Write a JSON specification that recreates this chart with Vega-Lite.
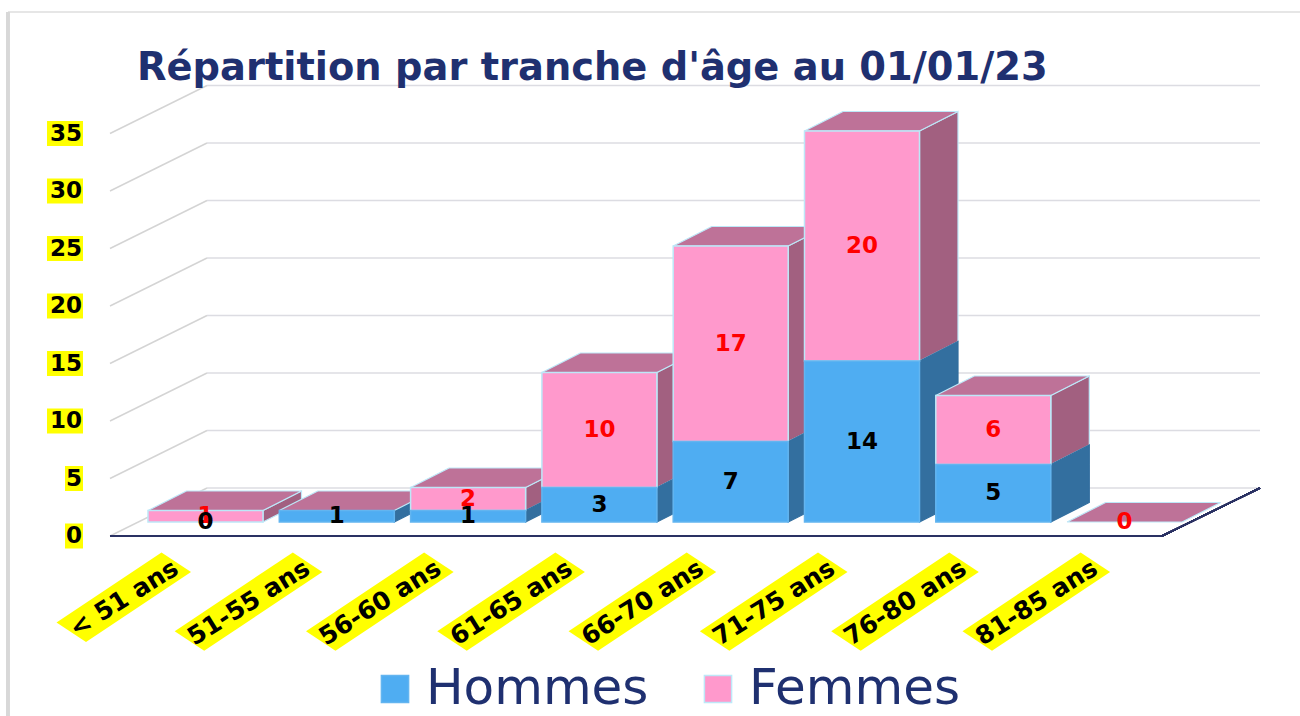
{
"$schema":"https://vega.github.io/schema/vega-lite/v6.json",
"width":1300,"height":716,"padding":0,"autosize":{"type":"none"},
"background":"white",
"title":{"text":"Répartition par tranche d'âge au 01/01/23","anchor":"start","frame":"group","dx":137,"dy":92,"font":"DejaVu Sans","fontWeight":"bold","fontSize":38.4,"color":"#1F3070"},
"config":{"view":{"stroke":null}},
"datasets":{
"barres":[
{"age":"< 51 ans","rang":0,"sexe":"Femmes","valeur":1},{"age":"< 51 ans","rang":0,"sexe":"Hommes","valeur":0},
{"age":"51-55 ans","rang":1,"sexe":"Femmes","valeur":0},{"age":"51-55 ans","rang":1,"sexe":"Hommes","valeur":1},
{"age":"56-60 ans","rang":2,"sexe":"Femmes","valeur":2},{"age":"56-60 ans","rang":2,"sexe":"Hommes","valeur":1},
{"age":"61-65 ans","rang":3,"sexe":"Femmes","valeur":10},{"age":"61-65 ans","rang":3,"sexe":"Hommes","valeur":3},
{"age":"66-70 ans","rang":4,"sexe":"Femmes","valeur":17},{"age":"66-70 ans","rang":4,"sexe":"Hommes","valeur":7},
{"age":"71-75 ans","rang":5,"sexe":"Femmes","valeur":20},{"age":"71-75 ans","rang":5,"sexe":"Hommes","valeur":14},
{"age":"76-80 ans","rang":6,"sexe":"Femmes","valeur":6},{"age":"76-80 ans","rang":6,"sexe":"Hommes","valeur":5},
{"age":"81-85 ans","rang":7,"sexe":"Femmes","valeur":0},{"age":"81-85 ans","rang":7,"sexe":"Hommes","valeur":0}
],
"graduations":[{"valeur":0},{"valeur":5},{"valeur":10},{"valeur":15},{"valeur":20},{"valeur":25},{"valeur":30},{"valeur":35}]
},
"data":{"name":"barres"},
"transform":[{"stack":"valeur","groupby":["age"],"sort":[{"field":"sexe","order":"descending"}],"as":["bas","haut"]}],
"layer":[
{"mark":{"type":"rule","stroke":"#E6E6E6","strokeWidth":2},"encoding":{"x":{"datum":-0.7769,"type":"quantitative","scale":{"domain":[-0.8378,9.0632],"nice":false,"zero":false},"axis":null},"y":{"datum":45.565,"type":"quantitative","scale":{"domain":[-15.652,46.609],"nice":false,"zero":false},"axis":null},"x2":{"datum":9.0632},"y2":{"datum":45.565}}},
{"mark":{"type":"rule","stroke":"#D8D8D8","strokeWidth":3},"encoding":{"x":{"datum":-0.7769,"type":"quantitative","scale":{"domain":[-0.8378,9.0632],"nice":false,"zero":false},"axis":null},"y":{"datum":45.565,"type":"quantitative","scale":{"domain":[-15.652,46.609],"nice":false,"zero":false},"axis":null},"x2":{"datum":-0.7769},"y2":{"datum":-15.652}}},
{"data":{"name":"graduations"},"transform":[{"calculate":"datum.valeur+4.174","as":"fond"},{"calculate":"0.7388","as":"g"},{"calculate":"8.7586","as":"d"}],
 "mark":{"type":"rule","stroke":"#DCDCE2","strokeWidth":1.5},
 "encoding":{"x":{"field":"g","type":"quantitative","scale":{"domain":[-0.8378,9.0632],"nice":false,"zero":false},"axis":null,"title":null},"y":{"field":"fond","type":"quantitative","scale":{"domain":[-15.652,46.609],"nice":false,"zero":false},"axis":null,"title":null},"x2":{"field":"d"},"y2":{"field":"fond"}}},
{"data":{"name":"graduations"},"transform":[{"calculate":"datum.valeur+4.174","as":"fond"},{"calculate":"0.7388","as":"g"},{"calculate":"0","as":"o"}],
 "mark":{"type":"rule","stroke":"#D4D4D4","strokeWidth":1.5},
 "encoding":{"x":{"field":"o","type":"quantitative","scale":{"domain":[-0.8378,9.0632],"nice":false,"zero":false},"axis":null,"title":null},"y":{"field":"valeur","type":"quantitative","scale":{"domain":[-15.652,46.609],"nice":false,"zero":false},"axis":null,"title":null},"x2":{"field":"g"},"y2":{"field":"fond"}}},
{"mark":{"type":"rule","stroke":"#2B3263","strokeWidth":1.5},"encoding":{"x":{"datum":0,"type":"quantitative","scale":{"domain":[-0.8378,9.0632],"nice":false,"zero":false},"axis":null},"y":{"datum":0,"type":"quantitative","scale":{"domain":[-15.652,46.609],"nice":false,"zero":false},"axis":null},"x2":{"datum":8.012},"y2":{"datum":0}}},
{"mark":{"type":"rule","stroke":"#2B3263","strokeWidth":1.5},"encoding":{"x":{"datum":8.012,"type":"quantitative","scale":{"domain":[-0.8378,9.0632],"nice":false,"zero":false},"axis":null},"y":{"datum":0,"type":"quantitative","scale":{"domain":[-15.652,46.609],"nice":false,"zero":false},"axis":null},"x2":{"datum":8.7586},"y2":{"datum":4.174}}},
{"transform":[{"filter":"datum.valeur>0"},{"calculate":"[0,1]","as":"c"},{"flatten":["c"]},{"calculate":"datum.rang+1.1653+datum.c*0.2932","as":"px"},{"calculate":"datum.bas+1.217+datum.c*1.696","as":"py"},{"calculate":"datum.haut+1.217+datum.c*1.696","as":"py2"},{"calculate":"datum.age+datum.sexe","as":"face"}],
 "mark":{"type":"area","strokeWidth":1.2},
 "encoding":{"x":{"field":"px","type":"quantitative","scale":{"domain":[-0.8378,9.0632],"nice":false,"zero":false},"axis":null,"title":null},"y":{"field":"py","type":"quantitative","scale":{"domain":[-15.652,46.609],"nice":false,"zero":false},"axis":null,"title":null},"y2":{"field":"py2"},"detail":{"field":"face"},
  "fill":{"field":"sexe","type":"nominal","scale":{"domain":["Hommes","Femmes"],"range":["#336F9F","#A26080"]},"legend":null},
  "stroke":{"field":"sexe","type":"nominal","scale":{"domain":["Hommes","Femmes"],"range":["#336F9F","#BDE8F8"]},"legend":null}}},
{"transform":[{"filter":"datum.sexe=='Femmes'"},{"calculate":"[0,1]","as":"c"},{"flatten":["c"]},{"calculate":"datum.rang+0.2894+datum.c*0.2932","as":"px"},{"calculate":"datum.rang+1.1653+datum.c*0.2932","as":"px2"},{"calculate":"datum.haut+1.217+datum.c*1.696","as":"py"}],
 "mark":{"type":"area","orient":"horizontal","fill":"#BE7298","stroke":"#BDE8F8","strokeWidth":1.2},
 "encoding":{"y":{"field":"py","type":"quantitative","scale":{"domain":[-15.652,46.609],"nice":false,"zero":false},"axis":null,"title":null},"x":{"field":"px","type":"quantitative","scale":{"domain":[-0.8378,9.0632],"nice":false,"zero":false},"axis":null,"title":null},"x2":{"field":"px2"},"detail":{"field":"age"}}},
{"transform":[{"filter":"datum.valeur>0"},{"calculate":"datum.rang+0.2894","as":"px"},{"calculate":"datum.rang+1.1653","as":"px2"},{"calculate":"datum.bas+1.217","as":"py"},{"calculate":"datum.haut+1.217","as":"py2"}],
 "mark":{"type":"rect","strokeWidth":1.5},
 "encoding":{"x":{"field":"px","type":"quantitative","scale":{"domain":[-0.8378,9.0632],"nice":false,"zero":false},"axis":null,"title":null},"x2":{"field":"px2"},"y":{"field":"py","type":"quantitative","scale":{"domain":[-15.652,46.609],"nice":false,"zero":false},"axis":null,"title":null},"y2":{"field":"py2"},
  "fill":{"field":"sexe","type":"nominal","scale":{"domain":["Hommes","Femmes"],"range":["#4FADF2","#FF99CC"]},"title":null,"legend":{"orient":"none","legendX":370,"legendY":664,"direction":"horizontal","columns":2,"columnPadding":44,"symbolType":"square","symbolSize":740,"symbolStrokeWidth":1.5,"labelFont":"DejaVu Sans","labelFontSize":50,"labelColor":"#1F3070","labelOffset":6,"title":null,"labelLimit":400}},
  "stroke":{"field":"sexe","type":"nominal","scale":{"domain":["Hommes","Femmes"],"range":["#63B5F0","#BDE8F8"]},"title":null}}},
{"transform":[{"filter":"!((datum.rang==1&&datum.sexe=='Femmes')||(datum.rang==7&&datum.sexe=='Hommes'))"},{"calculate":"datum.rang+0.7274","as":"px"},{"calculate":"(datum.bas+datum.haut)/2+1.217","as":"py"}],
 "mark":{"type":"text","font":"DejaVu Sans","fontWeight":"bold","fontSize":23,"align":"center","baseline":"middle"},
 "encoding":{"x":{"field":"px","type":"quantitative","scale":{"domain":[-0.8378,9.0632],"nice":false,"zero":false},"axis":null,"title":null},"y":{"field":"py","type":"quantitative","scale":{"domain":[-15.652,46.609],"nice":false,"zero":false},"axis":null,"title":null},"text":{"field":"valeur","type":"nominal"},
  "color":{"field":"sexe","type":"nominal","scale":{"domain":["Hommes","Femmes"],"range":["#000000","#FF0000"]},"legend":null}}},
{"data":{"name":"graduations"},"transform":[{"calculate":"-0.2056","as":"d"},{"calculate":"-0.2056-length(toString(datum.valeur))*18/131.3","as":"g"}],
 "mark":{"type":"rule","stroke":"#FFFF00","strokeWidth":25},
 "encoding":{"x":{"field":"g","type":"quantitative","scale":{"domain":[-0.8378,9.0632],"nice":false,"zero":false},"axis":null,"title":null},"x2":{"field":"d"},"y":{"field":"valeur","type":"quantitative","scale":{"domain":[-15.652,46.609],"nice":false,"zero":false},"axis":null,"title":null}}},
{"data":{"name":"graduations"},"transform":[{"calculate":"-0.2056","as":"d"}],
 "mark":{"type":"text","font":"DejaVu Sans","fontWeight":"bold","fontSize":23,"align":"right","baseline":"middle","dx":-1,"color":"#000000"},
 "encoding":{"x":{"field":"d","type":"quantitative","scale":{"domain":[-0.8378,9.0632],"nice":false,"zero":false},"axis":null,"title":null},"y":{"field":"valeur","type":"quantitative","scale":{"domain":[-15.652,46.609],"nice":false,"zero":false},"axis":null,"title":null},"text":{"field":"valeur","type":"nominal"}}},
{"transform":[{"filter":"datum.sexe=='Femmes'"},{"calculate":"length(datum.age)/8","as":"l"},{"calculate":"[0,1,2,3]","as":"c"},{"flatten":["c"]},
 {"calculate":"datum.rang+0.6169+[0,-29.5,-29.5-datum.l*105,-datum.l*105][datum.c]/131.3","as":"px"},
 {"calculate":"-3.130-[0,-19.5,-19.5+datum.l*70,datum.l*70][datum.c]/11.5","as":"py"}],
 "mark":{"type":"line","filled":true,"fill":"#FFFF00","stroke":null,"strokeWidth":0},
 "encoding":{"x":{"field":"px","type":"quantitative","scale":{"domain":[-0.8378,9.0632],"nice":false,"zero":false},"axis":null,"title":null},"y":{"field":"py","type":"quantitative","scale":{"domain":[-15.652,46.609],"nice":false,"zero":false},"axis":null,"title":null},"order":{"field":"c","type":"quantitative"},"detail":{"field":"age"}}},
{"transform":[{"filter":"datum.sexe=='Femmes'"},{"calculate":"datum.rang+0.5027","as":"px"},{"calculate":"-2.609","as":"py"}],
 "mark":{"type":"text","font":"DejaVu Sans","fontWeight":"bold","fontSize":25,"align":"right","baseline":"middle","angle":328,"color":"#000000"},
 "encoding":{"x":{"field":"px","type":"quantitative","scale":{"domain":[-0.8378,9.0632],"nice":false,"zero":false},"axis":null,"title":null},"y":{"field":"py","type":"quantitative","scale":{"domain":[-15.652,46.609],"nice":false,"zero":false},"axis":null,"title":null},"text":{"field":"age","type":"nominal"}}}
],
"resolve":{"scale":{"fill":"independent","stroke":"independent","color":"independent"}}
}
